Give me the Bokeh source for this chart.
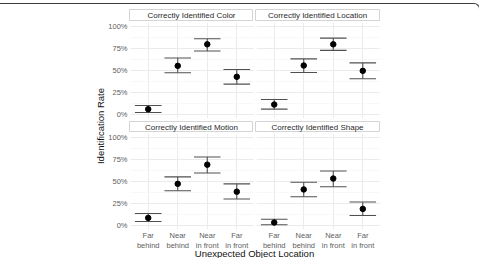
import math

from bokeh.core.properties import value
from bokeh.embed import file_html
from bokeh.layouts import column, row
from bokeh.models import (ColumnDataSource, FixedTicker, Grid, Label, LinearAxis,
                          NumeralTickFormatter, Range1d)
from bokeh.plotting import figure
from bokeh.resources import INLINE

# ---- data -------------------------------------------------------------
categories = ["Far\nbehind", "Near\nbehind", "Near\nin front", "Far\nin front"]
panel_titles = [
    "Correctly Identified Color",
    "Correctly Identified Location",
    "Correctly Identified Motion",
    "Correctly Identified Shape",
]

color_rate = [0.057, 0.553, 0.800, 0.428]
color_lo = [0.019, 0.474, 0.724, 0.344]
color_hi = [0.099, 0.644, 0.864, 0.511]

location_rate = [0.110, 0.557, 0.800, 0.496]
location_lo = [0.057, 0.477, 0.731, 0.405]
location_hi = [0.167, 0.633, 0.871, 0.587]

motion_rate = [0.083, 0.473, 0.693, 0.383]
motion_lo = [0.042, 0.394, 0.598, 0.300]
motion_hi = [0.133, 0.553, 0.780, 0.473]

shape_rate = [0.030, 0.409, 0.534, 0.186]
shape_lo = [0.004, 0.326, 0.439, 0.110]
shape_hi = [0.068, 0.492, 0.621, 0.265]

y_ticks = [0, 0.25, 0.5, 0.75, 1.0]
y_minor = [0.125, 0.375, 0.625, 0.875]

# ---- style ------------------------------------------------------------
FONT = "Liberation Sans"
PW, PH = 124, 96          # panel size in px
BAR_W = 0.9               # error-bar cap width in category units
GRID = "#ebebeb"
TICK_TXT = "#5e5e5e"
BOTTOM = 24               # room under the lower panels for the tick labels

xs = list(range(1, len(categories) + 1))


def make_panel(rate, lo, hi, y_axis, x_axis, left, right, top, bottom):
    p = figure(frame_width=PW, frame_height=PH,
               x_range=Range1d(0.4, len(categories) + 0.6),
               y_range=Range1d(-0.05, 1.05),
               x_axis_type=None, y_axis_type=None,
               output_backend="svg", toolbar_location=None,
               min_border_left=left, min_border_right=right,
               min_border_top=top, min_border_bottom=bottom,
               outline_line_color=None, background_fill_color="white",
               border_fill_color=None)
    p.add_layout(Grid(dimension=0, ticker=FixedTicker(ticks=xs),
                      grid_line_color=GRID, grid_line_width=1))
    p.add_layout(Grid(dimension=1, ticker=FixedTicker(ticks=y_ticks, minor_ticks=y_minor),
                      grid_line_color=GRID, grid_line_width=1,
                      minor_grid_line_color="#f5f5f5", minor_grid_line_width=0.7))

    src = ColumnDataSource(dict(
        x=xs, rate=rate, lo=lo, hi=hi,
        xl=[x - BAR_W / 2 for x in xs], xr=[x + BAR_W / 2 for x in xs],
    ))
    bar = dict(line_color="#505050", line_width=1.1)
    p.segment(x0="x", y0="lo", x1="x", y1="hi", source=src, **bar)
    p.segment(x0="xl", y0="lo", x1="xr", y1="lo", source=src, **bar)
    p.segment(x0="xl", y0="hi", x1="xr", y1="hi", source=src, **bar)
    p.scatter(x="x", y="rate", source=src, size=5.5, fill_color="black", line_color="black")

    common = dict(axis_line_color=None, major_tick_out=0, major_tick_in=0,
                  minor_tick_out=0, minor_tick_in=0,
                  major_label_text_font_size="7.5px", major_label_text_color=TICK_TXT,
                  major_label_text_font=FONT)
    if y_axis:
        ax = LinearAxis(ticker=FixedTicker(ticks=y_ticks),
                        formatter=NumeralTickFormatter(format="0%"),
                        major_label_standoff=3, **common)
        p.add_layout(ax, "left")
    if x_axis:
        ax = LinearAxis(ticker=FixedTicker(ticks=xs),
                        major_label_overrides={x: c for x, c in zip(xs, categories)},
                        major_label_standoff=1, **common)
        p.add_layout(ax, "below")
    return p


def make_strip(title, left, right, top, fh):
    s = figure(frame_width=PW, frame_height=fh,
               x_range=Range1d(0, 1), y_range=Range1d(0, 1),
               x_axis_type=None, y_axis_type=None,
               output_backend="svg", toolbar_location=None,
               min_border_left=left, min_border_right=right,
               min_border_top=top, min_border_bottom=0,
               outline_line_color="#d4d4d4", outline_line_width=1,
               background_fill_color="white", border_fill_color=None)
    s.text(x=[0.5], y=[0.5], text=[title], text_align="center", text_baseline="middle",
           text_font_size="8px", text_color="#2a2a2a", text_font=value(FONT))
    return s


LB, RB = 24, 99            # outer left / right borders of the panel block
GAP = 2                    # gap between facet columns

strip_tl = make_strip(panel_titles[0], LB, 0, 5, 12)
strip_tr = make_strip(panel_titles[1], GAP, RB, 5, 12)
pan_tl = make_panel(color_rate, color_lo, color_hi, True, False, LB, 0, 1, 0)
pan_tr = make_panel(location_rate, location_lo, location_hi, False, False, GAP, RB, 1, 0)
strip_bl = make_strip(panel_titles[2], LB, 0, 3, 11)
strip_br = make_strip(panel_titles[3], GAP, RB, 3, 11)
pan_bl = make_panel(motion_rate, motion_lo, motion_hi, True, True, LB, 0, 1, BOTTOM)
pan_br = make_panel(shape_rate, shape_lo, shape_hi, False, True, GAP, RB, 1, BOTTOM)

block_w = LB + PW + GAP + PW + RB

# shared x-axis title under both facet columns; it is pulled up over the
# transparent lower border of the panels above it
XT_H, XT_UP = 15, 10
xt = figure(width=block_w, height=XT_H, x_range=Range1d(0, 1), y_range=Range1d(0, 1),
            x_axis_type=None, y_axis_type=None, output_backend="svg",
            toolbar_location=None, min_border=0, outline_line_color=None,
            border_fill_color=None, background_fill_color=None,
            styles={"margin-top": f"-{XT_UP}px"})
xt.add_layout(Label(x=LB + PW + GAP / 2, y=4.9, x_units="screen", y_units="screen",
                    text="Unexpected Object Location", text_align="center",
                    text_baseline="middle", text_font_size="9.5px",
                    text_font=FONT, text_color="#111111"))

block = column(row(strip_tl, strip_tr), row(pan_tl, pan_tr),
               row(strip_bl, strip_br), row(pan_bl, pan_br), xt)

# shared y-axis title to the left of both facet rows
block_h = (5 + 12) + (1 + PH) + (3 + 11) + (1 + PH + BOTTOM) + XT_H - XT_UP
yt = figure(width=105, height=block_h, x_range=Range1d(0, 1), y_range=Range1d(0, 1),
            x_axis_type=None, y_axis_type=None, output_backend="svg",
            toolbar_location=None, min_border=0, outline_line_color=None,
            border_fill_color=None, background_fill_color=None)
yt.add_layout(Label(x=99.5, y=block_h - 121.5, x_units="screen", y_units="screen",
                    text="Identification Rate", angle=math.pi / 2, text_align="center",
                    text_baseline="middle", text_font_size="9.5px",
                    text_font=FONT, text_color="#111111"))

page = row(yt, block, styles={
    "margin-top": "3px",
    "border-top": "1px solid #3c3c3c",
    "border-right": "1px solid #3c3c3c",
    "border-top-right-radius": "6px",
})

open("out.html", "w").write(file_html(page, INLINE))
